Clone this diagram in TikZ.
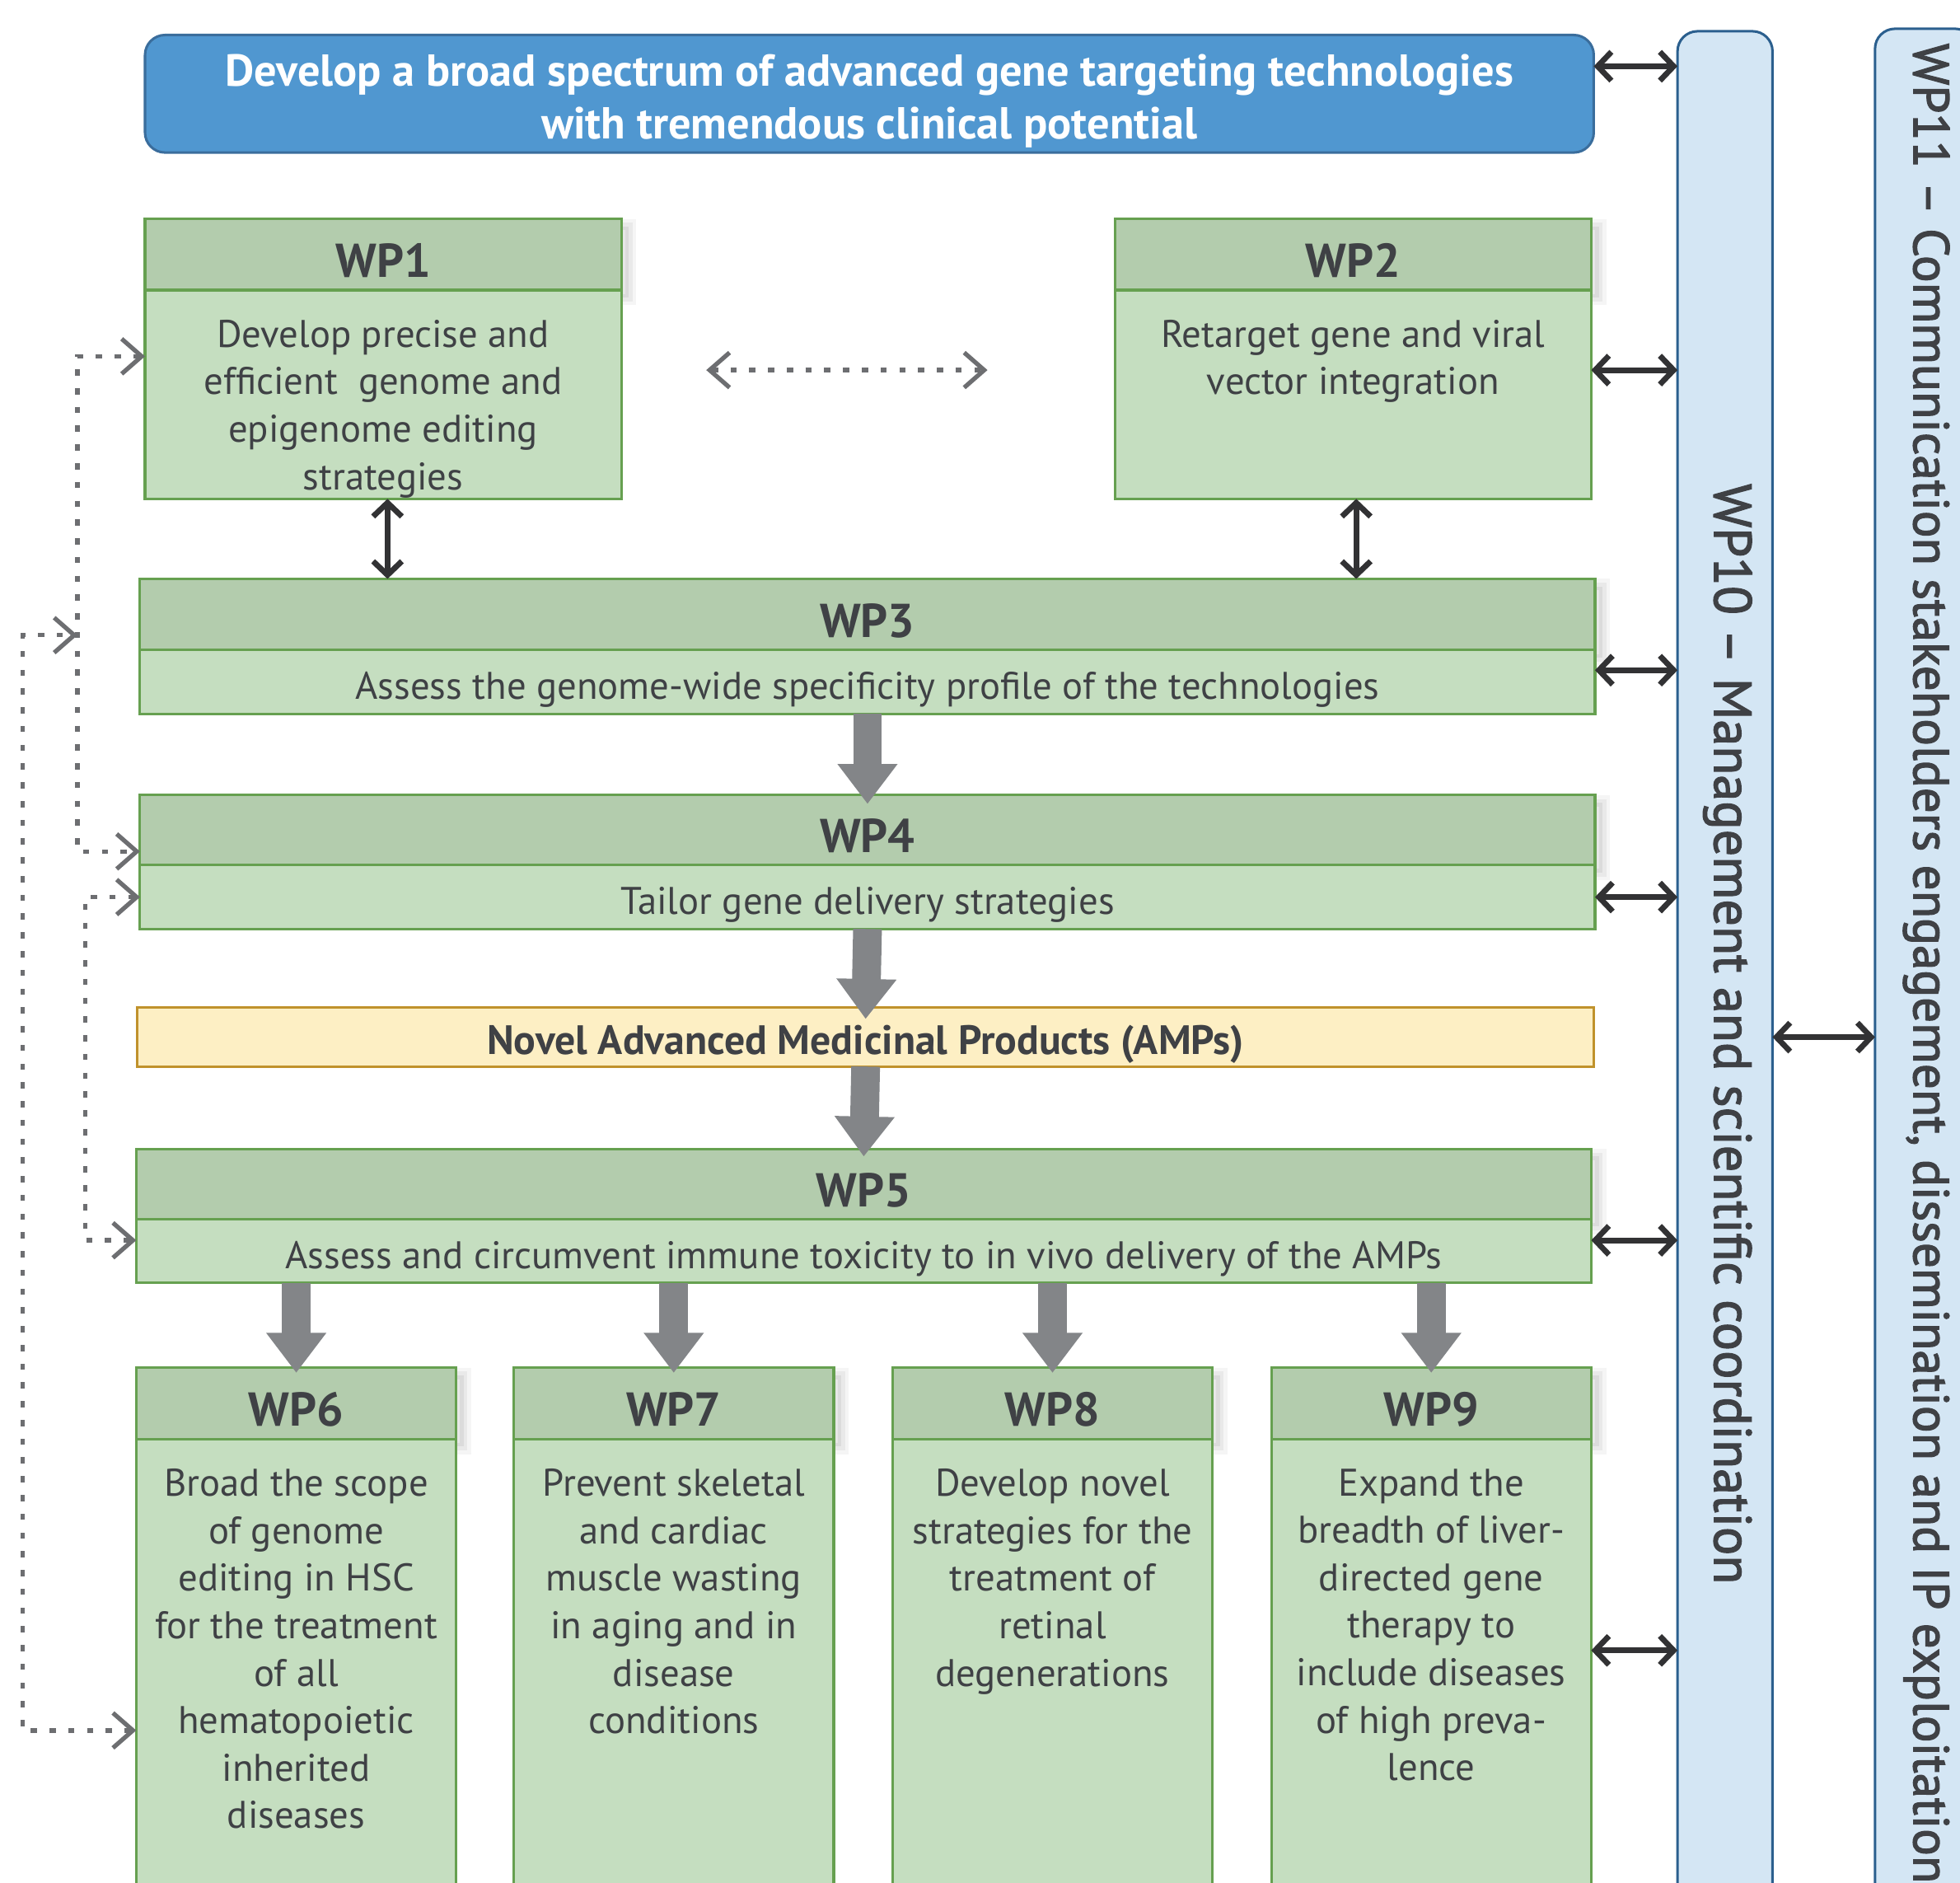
\documentclass[tikz,border=0pt]{standalone}
\usepackage{fontspec}
\setmainfont{PT Sans}
\usetikzlibrary{arrows.meta,positioning,calc}

\definecolor{goalblue}{HTML}{5097D0}
\definecolor{goalline}{HTML}{3A6D9C}
\definecolor{headgreen}{HTML}{B3CCAD}
\definecolor{bodygreen}{HTML}{C5DEC0}
\definecolor{boxline}{HTML}{66A050}
\definecolor{ampfill}{HTML}{FDEFC4}
\definecolor{ampline}{HTML}{C0922C}
\definecolor{colfill}{HTML}{D4E6F4}
\definecolor{colline}{HTML}{2B5F8E}
\definecolor{flowgray}{HTML}{838588}
\definecolor{linkdark}{HTML}{323234}
\definecolor{dotgray}{HTML}{6D6E71}
\definecolor{txtgray}{HTML}{3F4145}

\def\bodyfont{\fontsize{30.8}{38}\selectfont}
\def\headfont{\bfseries\fontsize{38}{40}\selectfont}
\def\goalfont{\bfseries\fontsize{35.8}{42}\selectfont}
\def\ampfont{\bfseries\fontsize{32.8}{36}\selectfont}
\def\colfont#1{\fontsize{#1}{#1}\selectfont\addfontfeatures{FakeBold=2}}

\tikzset{
	softshadow/.style={
		preaction={fill=black, fill opacity=0.06, draw=black, draw opacity=0.04, line width=12pt, transform canvas={xshift=6pt,yshift=-6pt}},
		preaction={draw=black, draw opacity=0.05, line width=6pt, transform canvas={xshift=6pt,yshift=-6pt}}},
	wphead/.style={softshadow, draw=boxline, fill=headgreen, line width=2pt, outer sep=0pt, inner sep=0pt, text=txtgray, font=\headfont, text height=36pt, text depth=0pt},
	wpbody/.style={draw=boxline, fill=bodygreen, line width=2pt, outer sep=0pt, inner sep=0pt, text=txtgray, font=\bodyfont, align=center},
	wpline/.style={wpbody, text height=28pt, text depth=0pt},
	wptext/.style={inner sep=0pt, text=txtgray, font=\bodyfont, align=center},
	goalbox/.style={draw=goalline, fill=goalblue, line width=2pt, rounded corners=16pt, outer sep=0pt},
	goaltext/.style={inner sep=0pt, text=white, font=\goalfont, align=center},
	ampbox/.style={draw=ampline, fill=ampfill, line width=2pt, outer sep=0pt, inner sep=0pt, text=txtgray, font=\ampfont, text height=28pt, text depth=0pt},
	colbox/.style={draw=colline, fill=colfill, line width=2pt, rounded corners=16pt, outer sep=0pt, inner sep=0pt},
	coltext/.style={rotate=-90, inner sep=0pt, text=txtgray},
	flow/.style={draw=flowgray, line width=23pt, -{Triangle[length=32pt,width=46pt]}},
	linkarrow/.style={draw=linkdark, line width=4.5pt, {Straight Barb[length=11pt,width=23pt]}-{Straight Barb[length=11pt,width=23pt]}},
	dotlink/.style={draw=dotgray, line width=3.5pt, dash pattern=on 5pt off 10pt, {Straight Barb[length=16pt,width=28pt]}-{Straight Barb[length=16pt,width=28pt]}},
}

\begin{document}
\begin{tikzpicture}[x=1pt, y=-1pt]
	%%%%% START %%%%%
	\useasboundingbox (0,0) rectangle (1568,1506);
	\clip (0,0) rectangle (1568,1506);
	
	% side columns
	\node[colbox, minimum width=76, minimum height=1505] (wp10) at (1380, 777.5) {};
	\node[coltext, font=\colfont{42.3}] (wp10t) at (1382, 827) {WP10 – Management and scientific coordination};
	\node[colbox, minimum width=80, minimum height=1507] (wp11) at (1540, 776.5) {};
	\node[coltext, font=\colfont{40.3}] (wp11t) at (1541, 770.5) {WP11 – Communication stakeholders engagement, dissemination and IP exploitation};
	
	% objective
	\node[goalbox, minimum width=1159, minimum height=94] (goal) at (695.5, 75) {};
	\node[goaltext] (goalt) at ([yshift=-6pt]goal.center) {Develop a broad spectrum of advanced gene targeting technologies\\with tremendous clinical potential};
	
	% WP1 and WP2
	\node[wphead, minimum width=381, minimum height=57] (wp1h) at (306.5, 203.5) {WP1};
	\node[wpbody, minimum width=381, minimum height=167, below=0pt of wp1h] (wp1) {};
	\node[wptext, below=23.5pt of wp1h] (wp1t) {Develop precise and\\efficient\ \ genome and\\epigenome editing\\strategies};
	
	\node[wphead, minimum width=381, minimum height=57] (wp2h) at (1082.5, 203.5) {WP2};
	\node[wpbody, minimum width=381, minimum height=167, below=0pt of wp2h] (wp2) {};
	\node[wptext, below=23.5pt of wp2h] (wp2t) {Retarget gene and viral\\vector integration};
	
	% WP3, WP4, AMPs, WP5
	\node[wphead, minimum width=1164, minimum height=57] (wp3h) at (694, 491.5) {WP3};
	\node[wpline, minimum width=1164, minimum height=51, below=0pt of wp3h] (wp3) {Assess the genome-wide specificity profile of the technologies};
	
	\node[wphead, minimum width=1164, minimum height=56] (wp4h) at (694, 664) {WP4};
	\node[wpline, minimum width=1164, minimum height=51, below=0pt of wp4h] (wp4) {Tailor gene delivery strategies};
	
	\node[ampbox, minimum width=1165, minimum height=47] (amp) at (692.5, 829.5) {Novel Advanced Medicinal Products (AMPs)};
	
	\node[wphead, minimum width=1164, minimum height=56] (wp5h) at (691, 947) {WP5};
	\node[wpline, minimum width=1164, minimum height=51, below=0pt of wp5h] (wp5) {Assess and circumvent immune toxicity to in vivo delivery of the AMPs};
	
	% WP6 - WP9
	\node[wphead, minimum width=256, minimum height=57] (wp6h) at (237, 1122.5) {WP6};
	\node[wpbody, minimum width=256, minimum height=379, below=0pt of wp6h] (wp6) {};
	\node[wptext, below=23.5pt of wp6h] (wp6t) {Broad the scope\\of genome\\editing in HSC\\for the treatment\\of all\\hematopoietic\\inherited\\diseases};
	
	\node[wphead, minimum width=256, minimum height=57] (wp7h) at (539, 1122.5) {WP7};
	\node[wpbody, minimum width=256, minimum height=379, below=0pt of wp7h] (wp7) {};
	\node[wptext, below=23.5pt of wp7h] (wp7t) {Prevent skeletal\\and cardiac\\muscle wasting\\in aging and in\\disease\\conditions};
	
	\node[wphead, minimum width=256, minimum height=57] (wp8h) at (842, 1122.5) {WP8};
	\node[wpbody, minimum width=256, minimum height=379, below=0pt of wp8h] (wp8) {};
	\node[wptext, below=23.5pt of wp8h] (wp8t) {Develop novel\\strategies for the\\treatment of\\retinal\\degenerations};
	
	\node[wphead, minimum width=256, minimum height=57] (wp9h) at (1145, 1122.5) {WP9};
	\node[wpbody, minimum width=256, minimum height=379, below=0pt of wp9h] (wp9) {};
	\node[wptext, below=23.5pt of wp9h] (wp9t) {Expand the\\breadth of liver-\\directed gene\\therapy to\\include diseases\\of high preva-\\lence};
	
	% main flow
	\draw[flow] (wp3.south) -- ([yshift=-7pt]wp4h.north);
	\draw[flow] (wp4.south) -- ([yshift=-9pt]amp.north);
	\draw[flow] (amp.south) -- ([yshift=-6pt]wp5h.north);
	\draw[flow] (wp6h.north |- wp5.south) -- ([yshift=-4pt]wp6h.north);
	\draw[flow] (wp7h.north |- wp5.south) -- ([yshift=-4pt]wp7h.north);
	\draw[flow] (wp8h.north |- wp5.south) -- ([yshift=-4pt]wp8h.north);
	\draw[flow] (wp9h.north |- wp5.south) -- ([yshift=-4pt]wp9h.north);
	
	% links to WP3 and WP10, WP11
	\draw[linkarrow] ([xshift=3.5pt]wp1.south) -- ([xshift=3.5pt]wp1.south |- wp3h.north);
	\draw[linkarrow] ([xshift=2.5pt]wp2.south) -- ([xshift=2.5pt]wp2.south |- wp3h.north);
	\draw[linkarrow] ([yshift=22pt]goal.east) -- ([yshift=22pt]goal.east -| wp10.west);
	\draw[linkarrow] ([yshift=19.5pt]wp2.east) -- ([yshift=19.5pt]wp2.east -| wp10.west);
	\draw[linkarrow] ([yshift=9.5pt]wp3.east) -- ([yshift=9.5pt]wp3.east -| wp10.west);
	\draw[linkarrow] (wp4.east) -- (wp4.east -| wp10.west);
	\draw[linkarrow] ([yshift=8.5pt]wp5.east) -- ([yshift=8.5pt]wp5.east -| wp10.west);
	\draw[linkarrow] ([yshift=20.5pt]wp9.east) -- ([yshift=20.5pt]wp9.east -| wp10.west);
	\draw[linkarrow] (wp10.east |- amp) -- (wp11.west |- amp);
	
	% dotted feedback links
	\coordinate (fbjoin) at ([xshift=-50pt,yshift=-16.5pt]wp3h.west);
	\draw[dotlink] ([xshift=68pt,yshift=19.5pt]wp1.east) -- ([xshift=-102pt,yshift=19.5pt]wp2.west);
	\draw[dotlink] ([yshift=30.5pt]wp1.west) -- ++(-54pt,0) |- ([yshift=-17pt]wp4h.west);
	\draw[dotlink] ([yshift=-43.5pt]wp6.west) -- ++(-91pt,0) |- (fbjoin);
	\draw[dotlink] (wp4.west) -- ++(-44pt,0) |- ([yshift=8.5pt]wp5.west);
	
	%%%%% END %%%%%
\end{tikzpicture}
\end{document}
